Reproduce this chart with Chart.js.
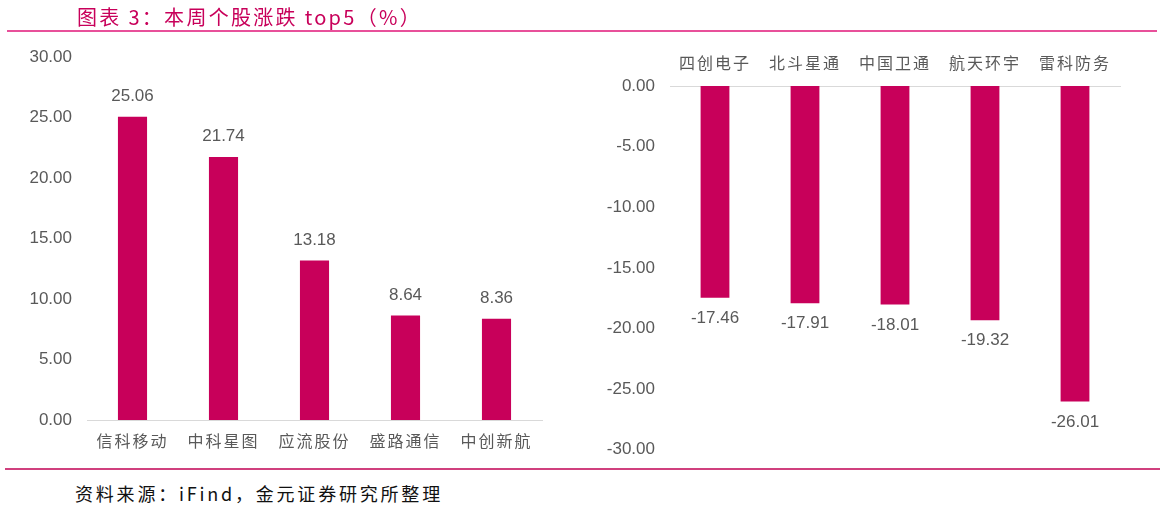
<!DOCTYPE html>
<html>
<head>
<meta charset="utf-8">
<script src="https://cdn.jsdelivr.net/npm/chart.js@4.4.0/dist/chart.umd.min.js"></script>
<style>
  body { margin: 0; width: 1165px; height: 509px; background: #fff; position: relative; overflow: hidden; }
  .title { position: absolute; z-index: 2; left: 77px; top: 2px; font: 20px "Noto Sans CJK SC", sans-serif; color: #C8005A; letter-spacing: 2.3px; }
  .rule { position: absolute; z-index: 2; height: 2px; }
  .source { position: absolute; z-index: 2; left: 75px; top: 480px; font: 18px "Noto Sans CJK SC", sans-serif; color: #111; letter-spacing: 2.8px; }
  .box { position: absolute; top: 0; z-index: 1; }
</style>
</head>
<body>
<div class="box" style="left:0;width:580px;height:470px;"><canvas id="leftChart"></canvas></div>
<div class="box" style="left:580px;width:585px;height:475px;"><canvas id="rightChart"></canvas></div>

<div class="title">图表 3：本周个股涨跌 top5（%）</div>
<div class="rule" style="left:7px; top:30px; width:1150px; background:#E8509A;"></div>
<div class="rule" style="left:5px; top:468px; width:1155px; background:#D0407E;"></div>
<div class="source">资料来源：iFind，金元证券研究所整理</div>

<script>
// top 5 gainers
var upNames = ['信科移动', '中科星图', '应流股份', '盛路通信', '中创新航'];
var upValues = [25.06, 21.74, 13.18, 8.64, 8.36];

// top 5 losers
var downNames = ['四创电子', '北斗星通', '中国卫通', '航天环宇', '雷科防务'];
var downValues = [-17.46, -17.91, -18.01, -19.32, -26.01];

var barColor = '#C8005A';
var textGrey = '#595959';

// draw the value next to each bar
var valueLabels = {
    id: 'valueLabels',
    afterDatasetsDraw: function(chart) {
        var ctx = chart.ctx;
        ctx.save();
        ctx.font = '17px "Liberation Sans", Arial, sans-serif';
        ctx.fillStyle = textGrey;
        ctx.textAlign = 'center';
        chart.getDatasetMeta(0).data.forEach(function(bar, i) {
            var v = chart.data.datasets[0].data[i];
            if (v >= 0) {
                ctx.textBaseline = 'bottom';
                ctx.fillText(v.toFixed(2), bar.x, bar.y - 12);
            } else {
                ctx.textBaseline = 'top';
                ctx.fillText(v.toFixed(2), bar.x, bar.y + 12);
            }
        });
        ctx.restore();
    }
};

// wider spacing for the category names only
var spacedNames = {
    id: 'spacedNames',
    afterUpdate: function(chart) {
        var xs = chart.scales.x;
        if (xs._spaced) return;
        var orig = xs.drawLabels;
        xs.drawLabels = function(area) {
            this.ctx.letterSpacing = '2px';
            orig.call(this, area);
            this.ctx.letterSpacing = '0px';
        };
        xs._spaced = true;
    }
};

function makeChart(id, names, values, opts) {
    var ctx = document.getElementById(id).getContext('2d');
    return new Chart(ctx, {
        type: 'bar',
        data: {
            labels: names,
            datasets: [{
                data: values,
                backgroundColor: barColor,
                borderWidth: 0,
                barPercentage: 0.32,
                categoryPercentage: 1
            }]
        },
        options: {
            responsive: true,
            maintainAspectRatio: false,
            animation: false,
            layout: { padding: opts.padding },
            plugins: { legend: { display: false }, tooltip: { enabled: false } },
            scales: {
                x: {
                    position: opts.xPos,
                    grid: { display: false, drawTicks: false },
                    border: { display: true, color: '#D9D9D9', width: 1 },
                    ticks: {
                        color: textGrey,
                        padding: opts.xPad,
                        font: { family: '"Noto Sans CJK SC", sans-serif', size: 16 }
                    },
                    afterFit: function(scale) { scale.height = opts.xHeight; }
                },
                y: {
                    min: opts.min,
                    max: opts.max,
                    grid: { display: false, drawTicks: false },
                    border: { display: false },
                    ticks: {
                        stepSize: 5,
                        color: textGrey,
                        padding: 15,
                        font: { family: '"Liberation Sans", Arial, sans-serif', size: 17 },
                        callback: function(v) { return v.toFixed(2); }
                    },
                    afterFit: function(scale) { scale.width = opts.yWidth; }
                }
            }
        },
        plugins: [valueLabels, spacedNames]
    });
}

makeChart('leftChart', upNames, upValues, {
    padding: { top: 57, right: 38, bottom: 0, left: 0 },
    xPos: 'bottom', xPad: 11, xHeight: 50, yWidth: 87, min: 0, max: 30
});

makeChart('rightChart', downNames, downValues, {
    padding: { top: 0, right: 45, bottom: 0, left: 0 },
    xPos: 'top', xPad: 13, xHeight: 86, yWidth: 90, min: -30, max: 0
});
</script>
</body>
</html>
